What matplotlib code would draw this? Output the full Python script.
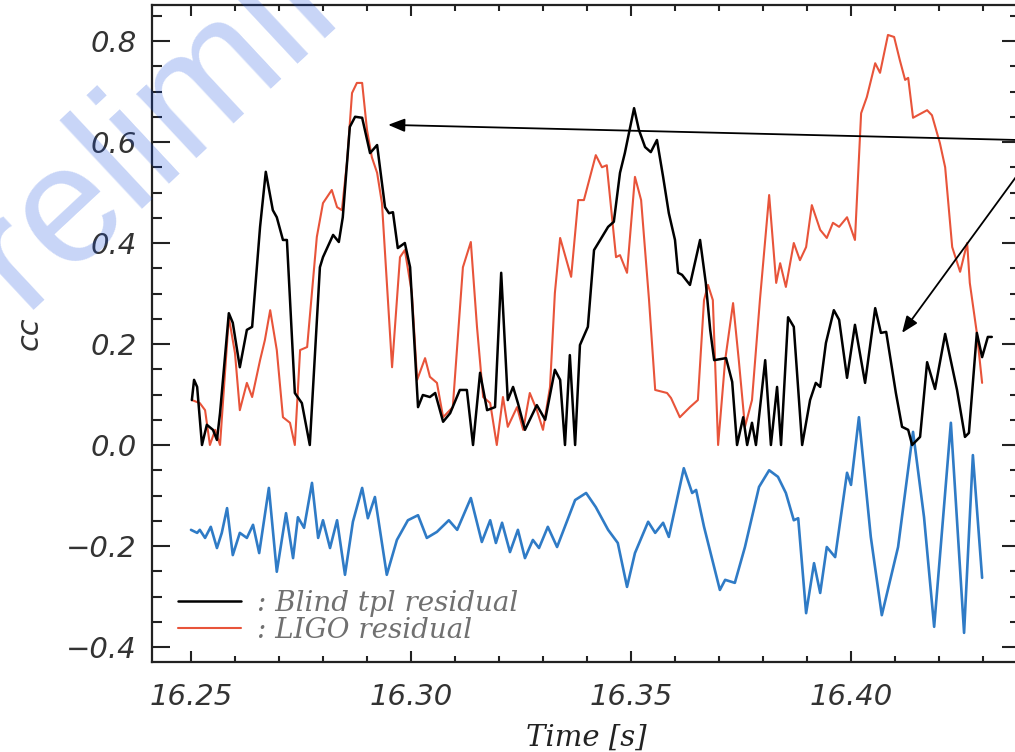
import matplotlib
matplotlib.use("Agg")
import matplotlib.pyplot as plt
from matplotlib.ticker import MultipleLocator

# --- data ---
blind_t = [16.2502, 16.2507, 16.2514, 16.2525, 16.2536, 16.2550, 16.2559, 16.2566, 16.2586, 16.2595,
           16.2611, 16.2627, 16.2639, 16.2657, 16.2670, 16.2686, 16.2695, 16.2709, 16.2718, 16.2736,
           16.2752, 16.2770, 16.2793, 16.2800, 16.2823, 16.2836, 16.2845, 16.2861, 16.2873, 16.2889,
           16.2907, 16.2923, 16.2941, 16.2950, 16.2959, 16.2970, 16.2986, 16.2998, 16.3016, 16.3027,
           16.3043, 16.3055, 16.3073, 16.3089, 16.3111, 16.3127, 16.3141, 16.3157, 16.3173, 16.3191,
           16.3205, 16.3220, 16.3232, 16.3243, 16.3259, 16.3286, 16.3305, 16.3327, 16.3339, 16.3350,
           16.3361, 16.3373, 16.3384, 16.3402, 16.3416, 16.3430, 16.3448, 16.3461, 16.3475, 16.3486,
           16.3507, 16.3518, 16.3532, 16.3545, 16.3559, 16.3573, 16.3586, 16.3600, 16.3607, 16.3616,
           16.3634, 16.3657, 16.3670, 16.3680, 16.3689, 16.3716, 16.3730, 16.3741, 16.3755, 16.3764,
           16.3775, 16.3784, 16.3805, 16.3818, 16.3832, 16.3841, 16.3857, 16.3870, 16.3889, 16.3907,
           16.3920, 16.3930, 16.3943, 16.3961, 16.3973, 16.3991, 16.4009, 16.4032, 16.4055, 16.4068,
           16.4080, 16.4102, 16.4116, 16.4130, 16.4139, 16.4157, 16.4173, 16.4191, 16.4214, 16.4241,
           16.4259, 16.4268, 16.4286, 16.4298, 16.4311, 16.4320]
blind_cc = [0.089, 0.129, 0.115, 0.0, 0.040, 0.030, 0.010, 0.063, 0.261, 0.242,
            0.154, 0.228, 0.234, 0.432, 0.541, 0.465, 0.451, 0.406, 0.406, 0.103,
            0.083, 0.0, 0.352, 0.372, 0.416, 0.402, 0.451, 0.630, 0.650, 0.648,
            0.578, 0.594, 0.471, 0.459, 0.461, 0.390, 0.400, 0.352, 0.075, 0.099,
            0.095, 0.103, 0.046, 0.063, 0.109, 0.109, 0.0, 0.143, 0.069, 0.075,
            0.341, 0.089, 0.115, 0.083, 0.030, 0.079, 0.050, 0.149, 0.129, 0.0,
            0.178, 0.0, 0.198, 0.234, 0.386, 0.406, 0.432, 0.442, 0.539, 0.578,
            0.667, 0.624, 0.590, 0.580, 0.604, 0.531, 0.459, 0.406, 0.341, 0.337,
            0.317, 0.406, 0.321, 0.228, 0.168, 0.172, 0.125, 0.0, 0.055, 0.0,
            0.044, 0.0, 0.168, 0.0, 0.115, 0.0, 0.253, 0.234, 0.0, 0.089,
            0.123, 0.115, 0.202, 0.267, 0.248, 0.133, 0.238, 0.123, 0.271, 0.222,
            0.224, 0.103, 0.036, 0.030, 0.0, 0.016, 0.164, 0.111, 0.220, 0.109,
            0.016, 0.024, 0.222, 0.174, 0.214, 0.214]

ligo_t = [16.2502, 16.2520, 16.2532, 16.2543, 16.2555, 16.2566, 16.2586, 16.2600, 16.2611, 16.2627,
          16.2639, 16.2657, 16.2668, 16.2680, 16.2695, 16.2709, 16.2725, 16.2736, 16.2748, 16.2764,
          16.2786, 16.2800, 16.2820, 16.2832, 16.2843, 16.2855, 16.2866, 16.2877, 16.2889, 16.2900,
          16.2911, 16.2923, 16.2934, 16.2957, 16.2975, 16.2986, 16.3002, 16.3014, 16.3032, 16.3043,
          16.3059, 16.3073, 16.3095, 16.3118, 16.3136, 16.3150, 16.3164, 16.3180, 16.3195, 16.3209,
          16.3220, 16.3241, 16.3255, 16.3270, 16.3286, 16.3300, 16.3316, 16.3327, 16.3339, 16.3364,
          16.3380, 16.3393, 16.3420, 16.3434, 16.3445, 16.3466, 16.3475, 16.3491, 16.3509, 16.3523,
          16.3541, 16.3555, 16.3582, 16.3591, 16.3611, 16.3634, 16.3652, 16.3666, 16.3675, 16.3686,
          16.3698, 16.3714, 16.3732, 16.3745, 16.3759, 16.3775, 16.3793, 16.3814, 16.3830, 16.3839,
          16.3852, 16.3870, 16.3884, 16.3898, 16.3911, 16.3930, 16.3945, 16.3959, 16.3973, 16.3991,
          16.4009, 16.4023, 16.4036, 16.4055, 16.4066, 16.4084, 16.4098, 16.4111, 16.4123, 16.4130,
          16.4141, 16.4173, 16.4184, 16.4202, 16.4214, 16.4230, 16.4248, 16.4264, 16.4270, 16.4286,
          16.4298]
ligo_cc = [0.089, 0.083, 0.069, 0.0, 0.030, 0.0, 0.253, 0.182, 0.069, 0.123,
           0.095, 0.168, 0.208, 0.267, 0.188, 0.055, 0.044, 0.0, 0.188, 0.194,
           0.412, 0.479, 0.505, 0.471, 0.465, 0.564, 0.697, 0.717, 0.717, 0.624,
           0.570, 0.539, 0.479, 0.154, 0.372, 0.386, 0.301, 0.129, 0.172, 0.135,
           0.123, 0.055, 0.075, 0.352, 0.402, 0.234, 0.095, 0.083, 0.0, 0.095,
           0.036, 0.075, 0.030, 0.103, 0.069, 0.030, 0.115, 0.301, 0.410, 0.333,
           0.485, 0.485, 0.574, 0.550, 0.554, 0.372, 0.376, 0.341, 0.531, 0.485,
           0.287, 0.109, 0.103, 0.093, 0.055, 0.075, 0.089, 0.287, 0.317, 0.287,
           0.0, 0.168, 0.281, 0.168, 0.036, 0.089, 0.287, 0.495, 0.321, 0.360,
           0.313, 0.400, 0.366, 0.392, 0.475, 0.426, 0.410, 0.440, 0.432, 0.451,
           0.406, 0.657, 0.689, 0.756, 0.737, 0.812, 0.808, 0.762, 0.723, 0.727,
           0.648, 0.663, 0.653, 0.598, 0.550, 0.392, 0.343, 0.400, 0.321, 0.222,
           0.123]

third_t = [16.2500, 16.2514, 16.2520, 16.2532, 16.2545, 16.2559, 16.2570, 16.2582, 16.2595, 16.2611,
           16.2627, 16.2641, 16.2655, 16.2677, 16.2695, 16.2716, 16.2732, 16.2743, 16.2757, 16.2775,
           16.2789, 16.2800, 16.2816, 16.2832, 16.2850, 16.2868, 16.2889, 16.2902, 16.2918, 16.2945,
           16.2968, 16.2993, 16.3016, 16.3036, 16.3059, 16.3086, 16.3105, 16.3136, 16.3161, 16.3180,
           16.3193, 16.3207, 16.3225, 16.3243, 16.3259, 16.3277, 16.3291, 16.3311, 16.3332, 16.3373,
           16.3398, 16.3420, 16.3448, 16.3470, 16.3491, 16.3509, 16.3539, 16.3555, 16.3573, 16.3586,
           16.3620, 16.3639, 16.3648, 16.3666, 16.3702, 16.3714, 16.3736, 16.3759, 16.3791, 16.3814,
           16.3834, 16.3852, 16.3870, 16.3880, 16.3898, 16.3916, 16.3930, 16.3945, 16.3964, 16.3991,
           16.4000, 16.4018, 16.4045, 16.4070, 16.4107, 16.4141, 16.4166, 16.4189, 16.4227, 16.4257,
           16.4277, 16.4298]
third_cc = [-0.168, -0.174, -0.168, -0.184, -0.162, -0.204, -0.174, -0.125, -0.218, -0.174,
            -0.184, -0.158, -0.214, -0.085, -0.251, -0.135, -0.224, -0.143, -0.164, -0.075,
            -0.184, -0.149, -0.204, -0.149, -0.257, -0.152, -0.085, -0.145, -0.103, -0.257,
            -0.188, -0.149, -0.139, -0.184, -0.172, -0.149, -0.168, -0.105, -0.192, -0.149,
            -0.194, -0.154, -0.212, -0.168, -0.224, -0.188, -0.204, -0.162, -0.202, -0.109,
            -0.095, -0.123, -0.168, -0.194, -0.281, -0.214, -0.152, -0.174, -0.154, -0.182,
            -0.046, -0.095, -0.089, -0.162, -0.287, -0.267, -0.273, -0.202, -0.083, -0.050,
            -0.063, -0.095, -0.149, -0.145, -0.333, -0.234, -0.293, -0.202, -0.222, -0.055,
            -0.079, 0.055, -0.182, -0.337, -0.202, 0.026, -0.143, -0.360, 0.044, -0.372,
            -0.020, -0.263]

xticks = [16.25, 16.30, 16.35, 16.40]
xtick_labels = ["16.25", "16.30", "16.35", "16.40"]
yticks = [-0.4, -0.2, 0.0, 0.2, 0.4, 0.6, 0.8]
ytick_labels = ["\u22120.4", "\u22120.2", "0.0", "0.2", "0.4", "0.6", "0.8"]
legend_labels = [": Blind tpl residual", ": LIGO residual"]

fig = plt.figure(figsize=(10.15, 7.52), dpi=100)
ax = fig.add_axes([152 / 1015, 1 - 662 / 752, 868 / 1015, 657 / 752])

line_kw = dict(solid_joinstyle="round", solid_capstyle="round")
l_black, = ax.plot(blind_t, blind_cc, color="black", lw=1.8, zorder=3, **line_kw)
l_red, = ax.plot(ligo_t, ligo_cc, color="#e8543a", lw=1.5, zorder=2, **line_kw)
ax.plot(third_t, third_cc, color="#2f7bc6", lw=1.9, zorder=2, **line_kw)

ax.set_xlim(16.24114, 16.43841)
ax.set_ylim(-0.4297, 0.8713)

ax.set_xticks(xticks)
ax.set_xticklabels(xtick_labels)
ax.set_yticks(yticks)
ax.set_yticklabels(ytick_labels)
ax.xaxis.set_minor_locator(MultipleLocator(0.01))
ax.yaxis.set_minor_locator(MultipleLocator(0.05))

ax.tick_params(axis="both", which="both", direction="in", top=True, right=True,
               colors="#222222", width=1.5)
ax.tick_params(axis="x", which="major", length=8, pad=15)
ax.tick_params(axis="x", which="minor", length=4.5)
ax.tick_params(axis="y", which="major", length=13, pad=11)
ax.tick_params(axis="y", which="minor", length=7)
for lab in ax.get_xticklabels() + ax.get_yticklabels():
    lab.set_fontsize(21)
    lab.set_style("italic")
    lab.set_color("#333333")
for sp in ax.spines.values():
    sp.set_linewidth(1.6)
    sp.set_color("#222222")

ax.set_xlabel("Time [s]", family="DejaVu Serif", style="italic", fontsize=21,
              color="#222222", labelpad=9)
ax.set_ylabel("cc", style="italic", fontsize=22, color="#333333", labelpad=16)

leg = ax.legend([l_black, l_red], legend_labels, loc="lower left",
                bbox_to_anchor=(0.030, 0.028), frameon=False,
                prop=dict(family="DejaVu Serif", style="italic", size=20),
                handlelength=2.25, handletextpad=0.6, labelspacing=0.0,
                borderpad=0, borderaxespad=0)
for txt in leg.get_texts():
    txt.set_color("#707070")

arrow = dict(arrowstyle="-|>,head_length=1.0,head_width=0.4", color="black", lw=1.3,
             shrinkA=0, shrinkB=0)
ax.annotate("", xy=(16.2948, 0.634), xycoords="data",
            xytext=(1.01, 0.8136), textcoords="figure fraction", arrowprops=arrow)
ax.annotate("", xy=(16.4116, 0.222), xycoords="data",
            xytext=(1.01, 0.7814), textcoords="figure fraction", arrowprops=arrow)

# watermark
fig.text(-0.0578, 0.4907, "Preliminary", family="Liberation Sans", fontsize=120,
         rotation=43, rotation_mode="anchor", ha="left", va="baseline",
         color="#1850e0", alpha=0.24, zorder=10)

fig.savefig("out.png", dpi=100)
